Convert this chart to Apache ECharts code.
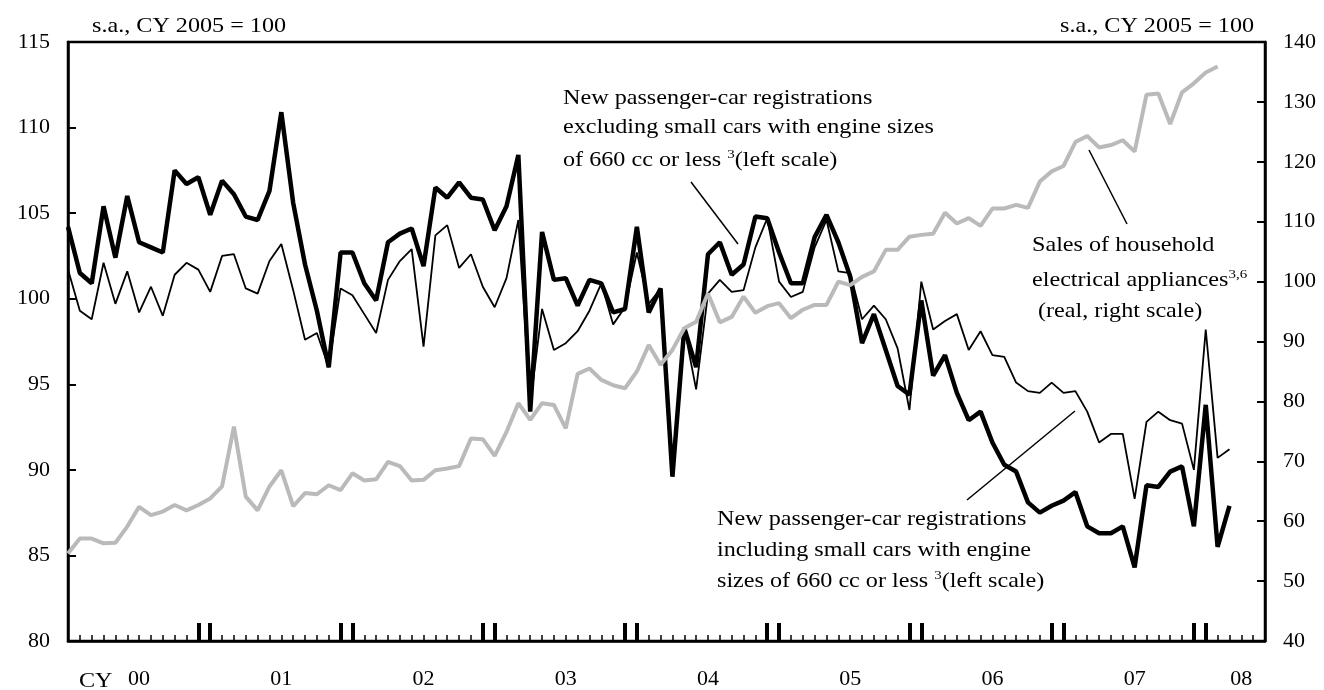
<!DOCTYPE html>
<html>
<head>
<meta charset="utf-8">
<script src="https://cdn.jsdelivr.net/npm/echarts@6/dist/echarts.min.js"></script>
<style>
  html, body { margin: 0; padding: 0; background: #fff; }
  #container { width: 1324px; height: 690px; }
</style>
</head>
<body>
<div id="container"></div>
<script>
// months Jan 2000 .. Jun 2008 (axis runs to mid 2008)
var months = []
for (var y = 2000; y <= 2008; y++) {
    for (var m = 1; m <= 12; m++) {
        if (y === 2008 && m > 6) break
        months.push(y + '-' + (m < 10 ? '0' + m : m))
    }
}

// new passenger-car registrations incl. small cars (left scale)
var inclSmall = [
    104.2, 101.5, 100.9, 105.4, 102.4, 106.0, 103.3, 103.0, 102.7, 107.5, 106.7, 107.1,
    104.9, 106.9, 106.1, 104.8, 104.6, 106.3, 110.9, 105.6, 102.0, 99.3, 96.0, 102.7,
    102.7, 100.9, 99.9, 103.3, 103.8, 104.1, 101.9, 106.5, 105.9, 106.8, 105.9, 105.8,
    104.0, 105.4, 108.4, 93.4, 103.9, 101.1, 101.2, 99.6, 101.1, 100.9, 99.2, 99.4,
    104.2, 99.2, 100.6, 89.6, 98.3, 96.0, 102.6, 103.3, 101.4, 102.0, 104.8, 104.7,
    102.7, 100.9, 100.9, 103.6, 104.9, 103.3, 101.3, 97.4, 99.1, 97.0, 94.9, 94.4,
    99.9, 95.5, 96.7, 94.5, 92.9, 93.4, 91.6, 90.3, 89.9, 88.1, 87.5, 87.9,
    88.2, 88.7, 86.7, 86.3, 86.3, 86.7, 84.3, 89.1, 89.0, 89.9, 90.2, 86.7,
    93.8, 85.5, 87.9
]

// new passenger-car registrations excl. small cars (left scale)
var exclSmall = [
    101.7, 99.3, 98.8, 102.1, 99.7, 101.6, 99.2, 100.7, 99.0, 101.4, 102.1, 101.7,
    100.4, 102.5, 102.6, 100.6, 100.3, 102.2, 103.2, 100.5, 97.6, 98.0, 96.0, 100.6,
    100.2, 99.1, 98.0, 101.1, 102.2, 102.9, 97.2, 103.7, 104.3, 101.8, 102.6, 100.7,
    99.5, 101.2, 104.6, 93.8, 99.4, 97.0, 97.4, 98.1, 99.3, 100.9, 98.5, 99.5,
    102.7, 99.7, 100.6, 89.9, 98.3, 94.7, 100.3, 101.1, 100.4, 100.5, 103.0, 104.7,
    101.0, 100.1, 100.4, 103.0, 104.6, 101.6, 101.5, 98.8, 99.6, 98.8, 97.1, 93.5,
    101.0, 98.2, 98.7, 99.1, 97.0, 98.1, 96.7, 96.6, 95.1, 94.6, 94.5, 95.1,
    94.5, 94.6, 93.4, 91.6, 92.1, 92.1, 88.3, 92.8, 93.4, 92.9, 92.7, 90.0,
    98.2, 90.7, 91.2
]

// sales of household electrical appliances, real (right scale)
var appliances = [
    54.6, 57.1, 57.1, 56.3, 56.4, 59.1, 62.4, 61.0, 61.6, 62.7, 61.8, 62.7,
    63.8, 65.8, 75.8, 64.1, 61.8, 65.8, 68.5, 62.5, 64.7, 64.5, 66.0, 65.2,
    68.0, 66.8, 67.0, 69.9, 69.2, 66.8, 66.9, 68.5, 68.8, 69.2, 73.8, 73.7,
    70.9, 74.9, 79.7, 76.9, 79.7, 79.4, 75.5, 84.6, 85.5, 83.6, 82.7, 82.2,
    85.0, 89.4, 86.1, 88.6, 92.2, 93.3, 98.0, 93.2, 94.1, 97.5, 94.8, 95.9,
    96.4, 93.9, 95.3, 96.1, 96.1, 100.0, 99.4, 100.8, 101.7, 105.3, 105.3, 107.5,
    107.8, 108.0, 111.5, 109.7, 110.6, 109.3, 112.2, 112.2, 112.8, 112.3, 116.7, 118.4,
    119.3, 123.3, 124.3, 122.4, 122.8, 123.6, 121.7, 131.2, 131.4, 126.3, 131.6, 133.1,
    134.9, 135.9
]

var FONT = "'Liberation Serif', 'Times New Roman', serif"
var FS = 21      // annotation text
var AXFS = 22    // axis labels
var STRETCH = 1.15

function isYearLabel(index) {
    return index % 12 === 6 || index === months.length - 3
}
function isYearTick(index) {
    return index > 0 && (index % 12 === 11 || index % 12 === 0)
}

// text anchored at its left/middle, stretched a little wider like the original
function txt(x, y, text) {
    return {
        type: 'text',
        x: x,
        y: y,
        scaleX: STRETCH,
        z: 100,
        style: {
            text: text,
            x: 0,
            y: 0,
            align: 'left',
            verticalAlign: 'middle',
            font: FS + 'px ' + FONT,
            fill: '#000',
            rich: {
                sup: { fontSize: 13, fontFamily: FONT, lineHeight: 13, verticalAlign: 'top' },
                n: { fontSize: FS, fontFamily: FONT, lineHeight: 24 }
            }
        }
    }
}
function leader(x1, y1, x2, y2) {
    return {
        type: 'line',
        shape: { x1: x1, y1: y1, x2: x2, y2: y2 },
        style: { stroke: '#000', lineWidth: 1.5 },
        z: 100
    }
}

var myChart = echarts.init(document.getElementById('container'))
myChart.setOption({
    animation: false,
    backgroundColor: '#fff',
    textStyle: { fontFamily: FONT },
    grid: {
        left: 68, right: 59, top: 42, bottom: 49,
        show: true, borderColor: '#000', borderWidth: 2.5
    },
    xAxis: [
        {
            type: 'category',
            data: months,
            boundaryGap: false,
            axisLine: { lineStyle: { color: '#000', width: 2.5 } },
            axisTick: { show: true, interval: 0, inside: true, length: 6, lineStyle: { color: '#000', width: 1.5 } },
            axisLabel: {
                interval: function (index) { return isYearLabel(index) },
                formatter: function (value) { return value.slice(2, 4) },
                margin: 27,
                color: '#000',
                fontSize: AXFS,
                fontFamily: FONT
            },
            splitLine: { show: false }
        },
        {
            type: 'category',
            data: months,
            boundaryGap: false,
            position: 'bottom',
            axisLine: { show: false },
            axisTick: {
                show: true,
                interval: function (index) { return isYearTick(index) },
                inside: true, length: 18,
                lineStyle: { color: '#000', width: 4 }
            },
            axisLabel: { show: false },
            splitLine: { show: false }
        }
    ],
    yAxis: [
        {
            type: 'value',
            min: 80, max: 115, interval: 5,
            axisLine: { show: true, lineStyle: { color: '#000', width: 2.5 } },
            axisTick: { show: true, inside: true, length: 8, lineStyle: { color: '#000', width: 2 } },
            axisLabel: { margin: 18, color: '#000', fontSize: AXFS, fontFamily: FONT },
            splitLine: { show: false }
        },
        {
            type: 'value',
            min: 40, max: 140, interval: 10,
            position: 'right',
            axisLine: { show: true, lineStyle: { color: '#000', width: 2.5 } },
            axisTick: { show: true, inside: true, length: 8, lineStyle: { color: '#000', width: 2 } },
            axisLabel: { margin: 18, color: '#000', fontSize: AXFS, fontFamily: FONT },
            splitLine: { show: false }
        }
    ],
    series: [
        {
            name: 'excl',
            type: 'line',
            data: exclSmall,
            showSymbol: false,
            lineStyle: { color: '#000', width: 1.8 },
            z: 3
        },
        {
            name: 'incl',
            type: 'line',
            data: inclSmall,
            showSymbol: false,
            lineStyle: { color: '#000', width: 4.5 },
            z: 4
        },
        {
            name: 'appliances',
            type: 'line',
            yAxisIndex: 1,
            data: appliances,
            showSymbol: false,
            lineStyle: { color: '#bababa', width: 4 },
            z: 5
        }
    ],
    graphic: [
        txt(92, 26, 's.a., CY 2005 = 100'),
        txt(1060, 26, 's.a., CY 2005 = 100'),
        txt(79, 681, 'CY'),
        txt(563, 98, 'New passenger-car registrations'),
        txt(563, 127, 'excluding small cars with engine sizes'),
        txt(563, 160, '{n|of 660 cc or less }{sup|3}{n|(left scale)}'),
        txt(1032, 245, 'Sales of household'),
        txt(1032, 280, '{n|electrical appliances}{sup|3,6}'),
        txt(1032, 311, ' (real, right scale)'),
        txt(717, 519, 'New passenger-car registrations'),
        txt(717, 550, 'including small cars with engine'),
        txt(717, 581, '{n|sizes of 660 cc or less }{sup|3}{n|(left scale)}'),
        leader(691, 182, 738, 244),
        leader(1089, 150, 1127, 224),
        leader(967, 500, 1075, 411)
    ]
})
</script>
</body>
</html>
